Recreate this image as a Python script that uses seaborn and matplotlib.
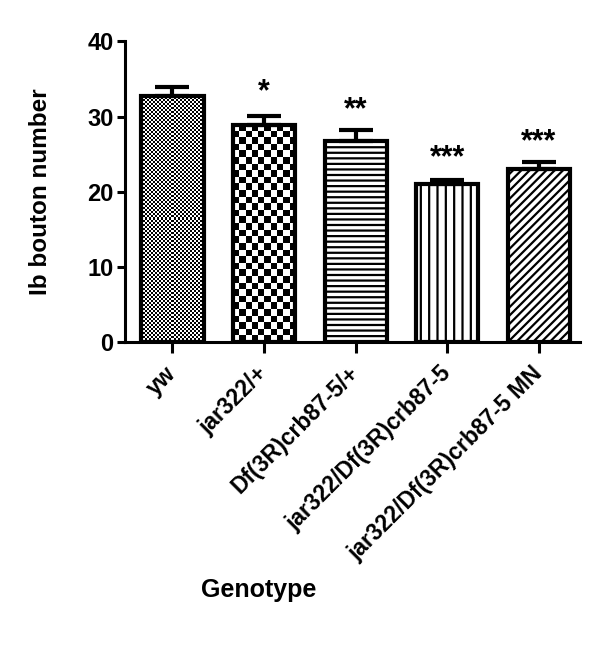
import numpy as np
import matplotlib
matplotlib.use('Agg')
import matplotlib.pyplot as plt
import seaborn as sns

genotypes = ['yw', 'jar322/+', 'Df(3R)crb87-5/+', 'jar322/Df(3R)crb87-5',
             'jar322/Df(3R)crb87-5 MN']
boutons = [32.8, 28.9, 26.8, 21.0, 23.1]
sem = [1.2, 1.2, 1.4, 0.6, 0.9]
stars = ['', '*', '**', '***', '***']
star_y = [0, 33.2, 30.9, 24.5, 26.6]

sns.set_theme(style='ticks')
plt.rcParams['font.family'] = ['Liberation Sans', 'DejaVu Sans']
plt.rcParams['font.weight'] = 'bold'
plt.rcParams['text.color'] = 'black'
plt.rcParams['axes.labelcolor'] = 'black'
plt.rcParams['xtick.color'] = 'black'
plt.rcParams['ytick.color'] = 'black'
plt.rcParams['hatch.linewidth'] = 1.6
plt.rcParams['hatch.color'] = 'black'

fig = plt.figure(figsize=(6, 6.47), dpi=100)
ax = fig.add_axes([0.208, 0.471, 0.759, 0.465])

sns.barplot(x=genotypes, y=boutons, width=0.68, color='white',
            edgecolor='black', linewidth=3, errorbar=None, ax=ax)
ax.errorbar(range(len(boutons)), boutons, yerr=[[0] * len(sem), sem],
            fmt='none', ecolor='black', elinewidth=3, capsize=12,
            capthick=3, zorder=3)

ax.set_xlim(-0.52, 4.45)
ax.set_ylim(0, 40)
ax.set_yticks([0, 10, 20, 30, 40])

# fill patterns like the GraphPad original
hatches = [None, None, '---', '||', '////']
cells = [2, 6.5, None, None, None]
for i, patch in enumerate(ax.patches[:len(boutons)]):
    patch.set_facecolor('none')
    if hatches[i]:
        patch.set_hatch(hatches[i])
        continue
    x0, y0 = patch.get_x(), patch.get_y()
    x1, y1 = x0 + patch.get_width(), y0 + patch.get_height()
    (px0, py0), (px1, py1) = ax.transData.transform([(x0, y0), (x1, y1)])
    ncol = max(1, int(round((px1 - px0) / cells[i])))
    nrow = max(1, int(round((py1 - py0) / cells[i])))
    board = np.indices((nrow, ncol)).sum(axis=0) % 2
    im = ax.imshow(board, extent=(x0, x1, y0, y1), cmap='gray_r',
                   interpolation='nearest', aspect='auto', zorder=0.5,
                   origin='lower')
    im.set_clip_path(patch)

ax.set_xlim(-0.52, 4.45)
ax.set_ylim(0, 40)

for i, s in enumerate(stars):
    if s:
        ax.text(i, star_y[i], s, ha='center', va='center', fontsize=22,
                fontweight='bold', color='black')

sns.despine(ax=ax)
for side in ['left', 'bottom']:
    ax.spines[side].set_linewidth(2.2)
    ax.spines[side].set_color('black')
ax.tick_params(axis='y', length=6, width=2.2, labelsize=17, pad=2)
ax.tick_params(axis='x', length=8, width=2.2, labelsize=16.5, pad=12)
plt.setp(ax.get_xticklabels(), rotation=45, ha='right', va='center',
         rotation_mode='anchor', fontweight='bold')
plt.setp(ax.get_yticklabels(), fontweight='bold')

ax.set_ylabel('Ib bouton number', fontsize=17.5, fontweight='bold')
ax.yaxis.set_label_coords(-0.16, 0.5)
ax.set_xlabel('Genotype', fontsize=18, fontweight='bold')
ax.xaxis.set_label_coords(0.295, -0.785)

fig.savefig('out.png', dpi=100, facecolor='white')
